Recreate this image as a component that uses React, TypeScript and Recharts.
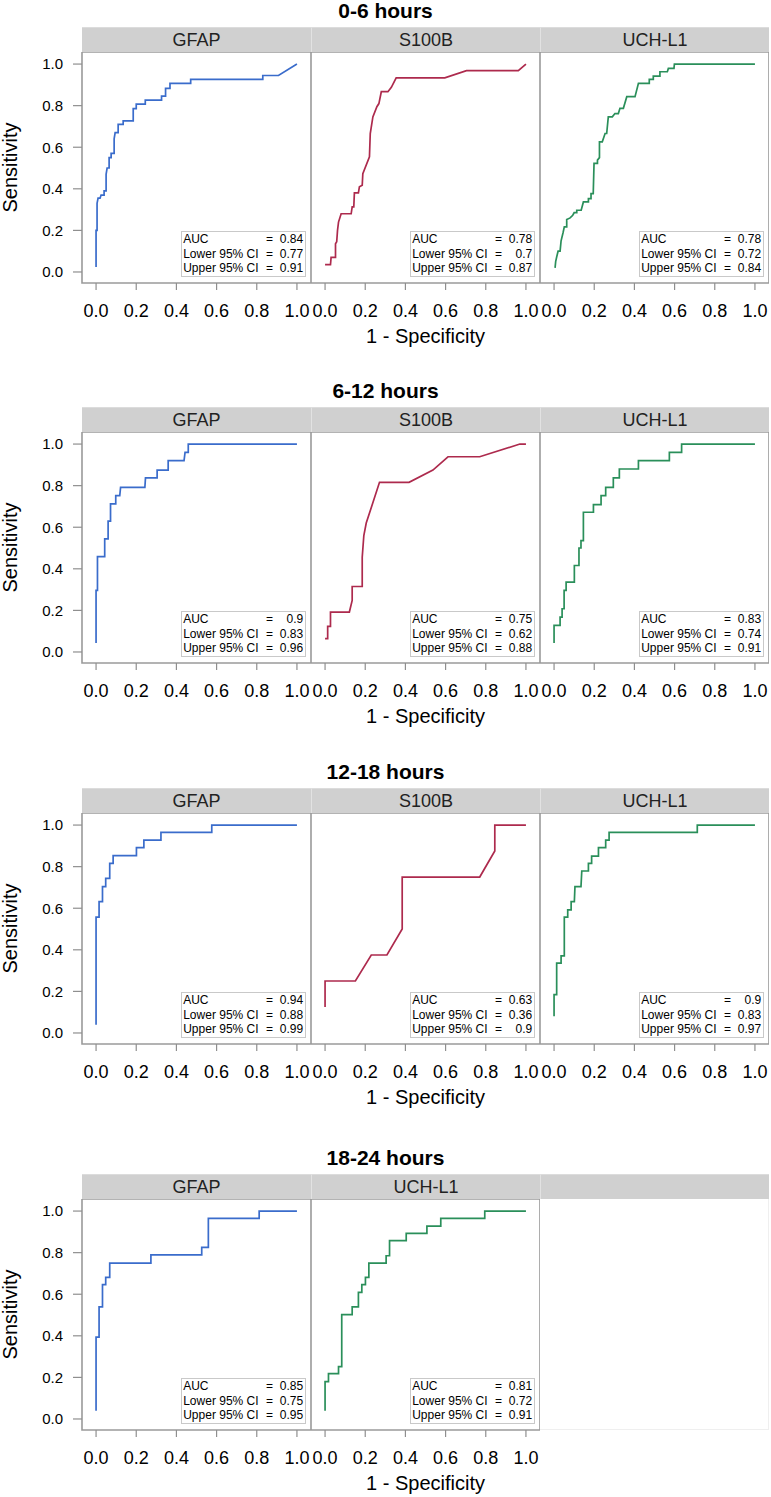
import React from 'react';
import { LineChart, Line, XAxis, YAxis, ReferenceArea } from 'recharts';

// ---------- DATA ----------
const rowTitles = ['0-6 hours', '6-12 hours', '12-18 hours', '18-24 hours'];
const rowMarkers = [
  ['GFAP', 'S100B', 'UCH-L1'],
  ['GFAP', 'S100B', 'UCH-L1'],
  ['GFAP', 'S100B', 'UCH-L1'],
  ['GFAP', 'UCH-L1'],
];
const xTicks = [0, 0.2, 0.4, 0.6, 0.8, 1.0];
const yTicks = [0, 0.2, 0.4, 0.6, 0.8, 1.0];

// AUC statistics per row (order follows rowMarkers)
const auc_0_6 = [0.84, 0.78, 0.78];
const lower_0_6 = [0.77, 0.7, 0.72];
const upper_0_6 = [0.91, 0.87, 0.84];
const auc_6_12 = [0.9, 0.75, 0.83];
const lower_6_12 = [0.83, 0.62, 0.74];
const upper_6_12 = [0.96, 0.88, 0.91];
const auc_12_18 = [0.94, 0.63, 0.9];
const lower_12_18 = [0.88, 0.36, 0.83];
const upper_12_18 = [0.99, 0.9, 0.97];
const auc_18_24 = [0.85, 0.81];
const lower_18_24 = [0.75, 0.72];
const upper_18_24 = [0.95, 0.91];

// ROC curves: [1 - specificity, sensitivity]
const gfap_0_6: [number, number][] = [
  [0, 0.024], [0, 0.2], [0.005, 0.2], [0.005, 0.33], [0.01, 0.355], [0.02, 0.355], [0.025, 0.37], [0.04, 0.37],
  [0.04, 0.39], [0.05, 0.39], [0.05, 0.47], [0.055, 0.5], [0.065, 0.5], [0.065, 0.55], [0.075, 0.55], [0.075, 0.57],
  [0.09, 0.57], [0.09, 0.64], [0.095, 0.67], [0.11, 0.67], [0.11, 0.71], [0.135, 0.71], [0.135, 0.727], [0.185, 0.727],
  [0.185, 0.786], [0.2, 0.786], [0.2, 0.807], [0.245, 0.807], [0.245, 0.827], [0.326, 0.827], [0.326, 0.846],
  [0.346, 0.846], [0.346, 0.883], [0.368, 0.883], [0.368, 0.907], [0.471, 0.907], [0.471, 0.926], [0.83, 0.926],
  [0.83, 0.945], [0.908, 0.945], [1, 1],
];
const s100b_0_6: [number, number][] = [
  [0, 0.035], [0.027, 0.035], [0.03, 0.07], [0.052, 0.07], [0.052, 0.136], [0.058, 0.145], [0.062, 0.2], [0.067, 0.24],
  [0.08, 0.28], [0.13, 0.28], [0.135, 0.313], [0.143, 0.313], [0.146, 0.38], [0.166, 0.38], [0.171, 0.41],
  [0.185, 0.417], [0.188, 0.473], [0.221, 0.554], [0.225, 0.666], [0.238, 0.746], [0.258, 0.795], [0.268, 0.81],
  [0.28, 0.867], [0.313, 0.867], [0.33, 0.888], [0.354, 0.934], [0.596, 0.934], [0.704, 0.968], [0.962, 0.968], [1, 1],
];
const uchl1_0_6: [number, number][] = [
  [0.005, 0.02], [0.008, 0.05], [0.013, 0.072], [0.02, 0.1], [0.03, 0.1], [0.035, 0.15], [0.045, 0.19], [0.051, 0.217],
  [0.063, 0.217], [0.063, 0.252], [0.08, 0.26], [0.093, 0.273], [0.1, 0.285], [0.113, 0.285], [0.113, 0.297],
  [0.135, 0.297], [0.146, 0.337], [0.171, 0.337], [0.171, 0.353], [0.184, 0.353], [0.184, 0.377], [0.195, 0.377],
  [0.199, 0.522], [0.216, 0.522], [0.216, 0.538], [0.226, 0.55], [0.226, 0.626], [0.24, 0.626], [0.254, 0.666],
  [0.262, 0.666], [0.27, 0.746], [0.29, 0.746], [0.303, 0.762], [0.32, 0.762], [0.328, 0.787], [0.345, 0.787],
  [0.362, 0.843], [0.403, 0.843], [0.42, 0.907], [0.474, 0.907], [0.474, 0.926], [0.494, 0.926], [0.494, 0.942],
  [0.527, 0.942], [0.527, 0.963], [0.564, 0.963], [0.569, 0.979], [0.597, 0.979], [0.599, 1], [1, 1],
];
const gfap_6_12: [number, number][] = [
  [0, 0.043], [0, 0.296], [0.007, 0.296], [0.007, 0.459], [0.043, 0.459], [0.043, 0.544], [0.06, 0.544], [0.06, 0.629],
  [0.072, 0.629], [0.072, 0.712], [0.098, 0.712], [0.098, 0.752], [0.118, 0.752], [0.122, 0.792], [0.243, 0.792],
  [0.246, 0.837], [0.304, 0.837], [0.304, 0.875], [0.359, 0.875], [0.359, 0.92], [0.438, 0.92], [0.443, 0.96],
  [0.459, 0.96], [0.459, 1], [1, 1],
];
const s100b_6_12: [number, number][] = [
  [0, 0.064], [0.013, 0.064], [0.013, 0.123], [0.027, 0.123], [0.027, 0.192], [0.121, 0.192], [0.135, 0.248],
  [0.135, 0.315], [0.185, 0.315], [0.185, 0.456], [0.193, 0.56], [0.205, 0.62], [0.271, 0.816], [0.418, 0.816],
  [0.537, 0.875], [0.612, 0.939], [0.77, 0.939], [0.97, 1], [1, 1],
];
const uchl1_6_12: [number, number][] = [
  [0, 0.043], [0, 0.128], [0.03, 0.128], [0.03, 0.168], [0.04, 0.168], [0.04, 0.208], [0.05, 0.208], [0.05, 0.296],
  [0.06, 0.296], [0.06, 0.336], [0.101, 0.336], [0.101, 0.416], [0.124, 0.416], [0.124, 0.5], [0.134, 0.5],
  [0.134, 0.536], [0.146, 0.536], [0.146, 0.672], [0.196, 0.672], [0.196, 0.709], [0.234, 0.709], [0.234, 0.752],
  [0.257, 0.752], [0.257, 0.792], [0.295, 0.792], [0.295, 0.837], [0.325, 0.837], [0.325, 0.88], [0.42, 0.88],
  [0.42, 0.92], [0.574, 0.92], [0.574, 0.96], [0.635, 0.96], [0.635, 1], [1, 1],
];
const gfap_12_18: [number, number][] = [
  [0, 0.04], [0, 0.557], [0.015, 0.557], [0.015, 0.632], [0.032, 0.632], [0.032, 0.704], [0.048, 0.704],
  [0.048, 0.744], [0.068, 0.744], [0.068, 0.816], [0.085, 0.816], [0.085, 0.853], [0.201, 0.853], [0.201, 0.891],
  [0.238, 0.891], [0.238, 0.928], [0.323, 0.928], [0.323, 0.965], [0.576, 0.965], [0.576, 1], [1, 1],
];
const s100b_12_18: [number, number][] = [
  [0, 0.125], [0, 0.25], [0.151, 0.25], [0.23, 0.375], [0.308, 0.375], [0.384, 0.5], [0.384, 0.75], [0.77, 0.75],
  [0.845, 0.875], [0.845, 1], [1, 1],
];
const uchl1_12_18: [number, number][] = [
  [0, 0.08], [0, 0.184], [0.013, 0.184], [0.013, 0.336], [0.035, 0.336], [0.035, 0.371], [0.051, 0.371],
  [0.051, 0.557], [0.068, 0.557], [0.068, 0.592], [0.085, 0.592], [0.085, 0.632], [0.101, 0.632], [0.104, 0.704],
  [0.134, 0.704], [0.138, 0.779], [0.171, 0.779], [0.171, 0.816], [0.187, 0.816], [0.187, 0.851], [0.221, 0.851],
  [0.221, 0.891], [0.257, 0.891], [0.257, 0.928], [0.274, 0.928], [0.274, 0.965], [0.713, 0.965], [0.713, 1], [1, 1],
];
const gfap_18_24: [number, number][] = [
  [0, 0.04], [0, 0.394], [0.015, 0.394], [0.015, 0.539], [0.032, 0.539], [0.032, 0.646], [0.048, 0.646],
  [0.048, 0.681], [0.068, 0.681], [0.068, 0.75], [0.273, 0.75], [0.273, 0.789], [0.526, 0.789], [0.526, 0.825],
  [0.559, 0.825], [0.559, 0.965], [0.812, 0.965], [0.812, 1], [1, 1],
];
const uchl1_18_24: [number, number][] = [
  [0, 0.04], [0, 0.18], [0.017, 0.18], [0.017, 0.218], [0.067, 0.218], [0.067, 0.252], [0.083, 0.252],
  [0.083, 0.502], [0.135, 0.502], [0.135, 0.539], [0.166, 0.539], [0.166, 0.609], [0.183, 0.609], [0.183, 0.646],
  [0.201, 0.646], [0.201, 0.681], [0.218, 0.681], [0.218, 0.75], [0.304, 0.75], [0.304, 0.785], [0.321, 0.785],
  [0.321, 0.858], [0.404, 0.858], [0.404, 0.893], [0.507, 0.893], [0.507, 0.928], [0.576, 0.928], [0.576, 0.965],
  [0.795, 0.965], [0.795, 1], [1, 1],
];

const rowCurves = [
  [gfap_0_6, s100b_0_6, uchl1_0_6],
  [gfap_6_12, s100b_6_12, uchl1_6_12],
  [gfap_12_18, s100b_12_18, uchl1_12_18],
  [gfap_18_24, uchl1_18_24],
];
const rowAuc = [auc_0_6, auc_6_12, auc_12_18, auc_18_24];
const rowLower = [lower_0_6, lower_6_12, lower_12_18, lower_18_24];
const rowUpper = [upper_0_6, upper_6_12, upper_12_18, upper_18_24];

const markerColors: Record<string, string> = {
  GFAP: '#3a6ccb',
  S100B: '#ad2a4d',
  'UCH-L1': '#2a8f5a',
};

// ---------- LAYOUT ----------
const FONT = '"Liberation Sans", Arial, Helvetica, sans-serif';
const PLOT_TOPS = [52, 432, 813, 1199];
const PANEL_LEFTS = [82, 311, 540];
const PW = 229;
const PH = 231;
const STRIP_H = 25;
const AXIS_H = 64;
const X_DOMAIN: [number, number] = [-0.07, 1.07];
const Y_DOMAIN: [number, number] = [-0.053, 1.058];

const XLabel = (props: any) => {
  const vb = props.viewBox || { x: 0, y: PH, width: PW, height: AXIS_H };
  return (
    <text
      x={vb.x + vb.width / 2}
      y={vb.y + 60}
      textAnchor="middle"
      fontSize={20}
      fill="#000"
      fontFamily={FONT}
    >
      1 - Specificity
    </text>
  );
};

const YLabel = (props: any) => {
  const vb = props.viewBox || { x: 0, y: 0, width: 82, height: PH };
  const cx = 10;
  const cy = vb.y + vb.height / 2;
  return (
    <text
      x={cx}
      y={cy}
      transform={`rotate(-90, ${cx}, ${cy})`}
      textAnchor="middle"
      dominantBaseline="central"
      fontSize={20}
      fill="#000"
      fontFamily={FONT}
    >
      Sensitivity
    </text>
  );
};

function StatsBox({ auc, lower, upper }: { auc: number; lower: number; upper: number }) {
  const rows: [string, number][] = [
    ['AUC', auc],
    ['Lower 95% CI', lower],
    ['Upper 95% CI', upper],
  ];
  return (
    <div
      style={{
        position: 'absolute',
        left: 98.5,
        top: 178.5,
        width: 125.5,
        height: 46.5,
        boxSizing: 'border-box',
        border: '1px solid #c9c9c9',
        background: '#fff',
        fontFamily: FONT,
        fontSize: 12,
        color: '#000',
        paddingTop: 0.8,
      }}
    >
      {rows.map(([label, v]) => (
        <div key={label} style={{ position: 'relative', height: 14.6, lineHeight: '14.6px' }}>
          <span style={{ position: 'absolute', left: 1.7 }}>{label}</span>
          <span style={{ position: 'absolute', left: 84.5 }}>=</span>
          <span style={{ position: 'absolute', right: 1.8 }}>{String(v)}</span>
        </div>
      ))}
    </div>
  );
}

function Panel({ row, idx }: { row: number; idx: number }) {
  const marker = rowMarkers[row][idx];
  const pts = rowCurves[row][idx];
  const data = pts.map(([x, y]) => ({ x, y }));
  const showY = idx === 0;
  const panelLeft = PANEL_LEFTS[idx];
  const chartLeft = showY ? 0 : panelLeft;
  const width = showY ? panelLeft + PW : PW;
  const height = PH + AXIS_H;
  return (
    <div style={{ position: 'absolute', left: chartLeft, top: PLOT_TOPS[row], width, height }}>
      <LineChart
        width={width}
        height={height}
        data={data}
        margin={{ top: 0, right: 0, bottom: 0, left: 0 }}
        style={{ overflow: 'visible' }}
      >
        <XAxis
          type="number"
          dataKey="x"
          domain={X_DOMAIN}
          ticks={xTicks}
          allowDataOverflow
          interval={0}
          height={AXIS_H}
          tickSize={7}
          tickMargin={14}
          axisLine={false}
          tickLine={{ stroke: '#8f8f8f', strokeWidth: 1.2 }}
          tick={{ fontSize: 18, fill: '#000', fontFamily: FONT }}
          tickFormatter={(v: number) => v.toFixed(1)}
          label={idx === 1 ? XLabel : undefined}
        />
        <YAxis
          type="number"
          domain={Y_DOMAIN}
          ticks={yTicks}
          allowDataOverflow
          hide={!showY}
          width={showY ? panelLeft : 0}
          tickSize={9}
          tickMargin={10}
          axisLine={false}
          tickLine={{ stroke: '#8f8f8f', strokeWidth: 1.2 }}
          tick={{ fontSize: 15, fill: '#000', fontFamily: FONT }}
          tickFormatter={(v: number) => v.toFixed(1)}
          label={showY ? YLabel : undefined}
        />
        <ReferenceArea
          x1={X_DOMAIN[0]}
          x2={X_DOMAIN[1]}
          y1={Y_DOMAIN[0]}
          y2={Y_DOMAIN[1]}
          fill="none"
          fillOpacity={0}
          stroke="#9a9a9a"
          strokeWidth={1.6}
          ifOverflow="visible"
        />
        <Line
          type="linear"
          dataKey="y"
          stroke={markerColors[marker]}
          strokeWidth={1.7}
          dot={false}
          activeDot={false}
          isAnimationActive={false}
        />
      </LineChart>
      <div style={{ position: 'absolute', left: showY ? panelLeft : 0, top: 0, width: PW, height: PH, pointerEvents: 'none' }}>
        <StatsBox auc={rowAuc[row][idx]} lower={rowLower[row][idx]} upper={rowUpper[row][idx]} />
      </div>
    </div>
  );
}

function Row({ row }: { row: number }) {
  const plotTop = PLOT_TOPS[row];
  const stripTop = plotTop - STRIP_H;
  const markers = rowMarkers[row];
  return (
    <>
      <div
        style={{
          position: 'absolute',
          left: 0,
          width: 771,
          top: stripTop - 16.5 - 12,
          height: 24,
          lineHeight: '24px',
          textAlign: 'center',
          fontFamily: FONT,
          fontWeight: 'bold',
          fontSize: 21,
          color: '#000',
        }}
      >
        {rowTitles[row]}
      </div>
      {PANEL_LEFTS.map((left, i) => (
        <div
          key={'strip' + i}
          style={{
            position: 'absolute',
            left,
            top: stripTop,
            width: PW,
            height: STRIP_H,
            boxSizing: 'border-box',
            background: '#d0d0d0',
            borderLeft: i > 0 ? '1px solid #e2e2e2' : 'none',
            borderTop: '1px solid #dcdcdc',
            lineHeight: '24px',
            textAlign: 'center',
            fontFamily: FONT,
            fontSize: 18,
            color: '#222',
          }}
        >
          {markers[i] || ''}
        </div>
      ))}
      {markers.length < 3 && (
        <div
          style={{
            position: 'absolute',
            left: PANEL_LEFTS[2],
            top: plotTop,
            width: PW,
            height: PH,
            boxSizing: 'border-box',
            borderRight: '1px solid #efefef',
            borderBottom: '1px solid #efefef',
          }}
        />
      )}
      {markers.map((_, i) => (
        <Panel key={i} row={row} idx={i} />
      ))}
    </>
  );
}

export default function App() {
  return (
    <div
      style={{
        position: 'absolute',
        left: 0,
        top: 0,
        width: 771,
        height: 1497,
        background: '#fff',
        fontFamily: FONT,
        overflow: 'hidden',
      }}
    >
      {rowTitles.map((_, r) => (
        <Row key={r} row={r} />
      ))}
    </div>
  );
}
